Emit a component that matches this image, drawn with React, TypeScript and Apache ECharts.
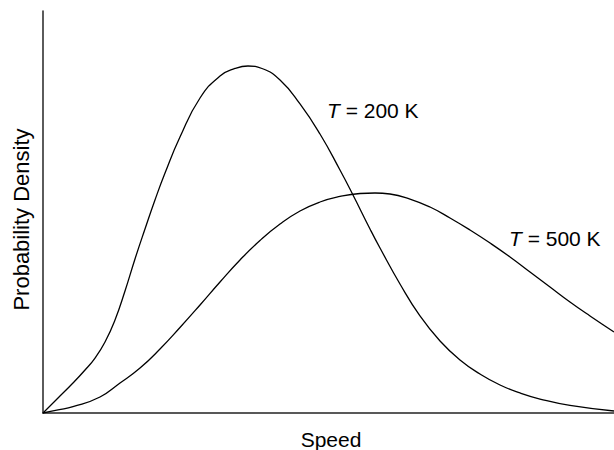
import React, { useEffect, useRef } from "react";
import * as echarts from "echarts";

// Speed (arbitrary units, 0..100) and probability density (arbitrary units)
const speedT200: number[] = [0, 2.63, 5.25, 7.36, 9.11, 10.86, 12.61, 14.36, 16.11, 17.86, 19.61, 21.37, 23.99, 27.5, 31.0, 33.63, 35.9, 38.35, 41.51, 45.01, 48.51, 52.01, 54.29, 57.27, 59.02, 62.52, 66.02, 69.53, 73.03, 76.53, 80.04, 83.54, 87.04, 92.29, 100];
const densityT200: number[] = [0, 3.73, 7.46, 10.7, 13.68, 17.66, 23.13, 30.35, 38.31, 45.77, 52.99, 59.7, 68.66, 78.36, 83.83, 85.7, 86.32, 85.7, 82.84, 76.87, 69.4, 60.45, 54.23, 45.77, 41.04, 32.09, 24.13, 17.91, 13.18, 9.7, 6.97, 4.98, 3.48, 1.87, 0.5];

const speedT500: number[] = [0, 2.63, 5.25, 9.98, 13.49, 16.99, 20.49, 23.99, 27.5, 31.0, 34.5, 38.0, 41.51, 45.01, 48.51, 52.01, 55.52, 58.14, 60.77, 64.27, 67.78, 71.28, 74.78, 78.28, 81.79, 85.29, 88.79, 92.29, 95.8, 100];
const densityT500: number[] = [0, 0.75, 1.57, 3.98, 7.46, 11.19, 15.92, 21.27, 26.87, 32.59, 38.06, 42.91, 47.01, 50.25, 52.49, 53.86, 54.6, 54.73, 54.48, 53.23, 51.24, 48.51, 45.52, 42.29, 38.81, 35.07, 31.34, 27.61, 24.13, 20.15];

const seriesNames: string[] = ["T = 200 K", "T = 500 K"];
const xAxisTitle = "Speed";
const yAxisTitle = "Probability Density";

const FONT = "Liberation Sans, Arial, Helvetica, sans-serif";

export default function App() {
  const ref = useRef<HTMLDivElement>(null);

  useEffect(() => {
    if (!ref.current) return;
    const chart = echarts.init(ref.current, undefined, { renderer: "svg" });
    const lineStyle = { color: "#000", width: 1.3 };
    const labelText = (name: string) => "{i|T}" + name.slice(1);
    chart.setOption({
      animation: false,
      backgroundColor: "#fff",
      grid: { left: 43, right: 0, top: 11, bottom: 37 },
      xAxis: {
        type: "value",
        min: 0,
        max: 100,
        axisLine: { show: true, lineStyle: { color: "#222", width: 1.6 } },
        axisTick: { show: false },
        axisLabel: { show: false },
        splitLine: { show: false },
      },
      yAxis: {
        type: "value",
        min: 0,
        max: 100,
        axisLine: { show: true, lineStyle: { color: "#333", width: 1.6 } },
        axisTick: { show: false },
        axisLabel: { show: false },
        splitLine: { show: false },
      },
      series: [
        {
          name: seriesNames[0],
          type: "line",
          data: speedT200.map((s, i) => [s, densityT200[i]]),
          smooth: 0.5,
          symbol: "none",
          lineStyle,
        },
        {
          name: seriesNames[1],
          type: "line",
          data: speedT500.map((s, i) => [s, densityT500[i]]),
          smooth: 0.5,
          symbol: "none",
          lineStyle,
        },
      ],
      graphic: [
        {
          type: "text",
          x: 327,
          y: 110,
          style: {
            text: labelText(seriesNames[0]),
            font: `21px ${FONT}`,
            fill: "#000",
            align: "left",
            verticalAlign: "middle",
            rich: { i: { fontStyle: "italic", fontSize: 21, fontFamily: FONT } },
          },
        },
        {
          type: "text",
          x: 509,
          y: 238.5,
          style: {
            text: labelText(seriesNames[1]),
            font: `21px ${FONT}`,
            fill: "#000",
            align: "left",
            verticalAlign: "middle",
            rich: { i: { fontStyle: "italic", fontSize: 21, fontFamily: FONT } },
          },
        },
        {
          type: "text",
          x: 331,
          y: 439,
          style: {
            text: xAxisTitle,
            font: `21px ${FONT}`,
            fill: "#000",
            align: "center",
            verticalAlign: "middle",
          },
        },
        {
          type: "text",
          x: 21,
          y: 219.5,
          rotation: Math.PI / 2,
          style: {
            text: yAxisTitle,
            font: `22px ${FONT}`,
            fill: "#000",
            align: "center",
            verticalAlign: "middle",
          },
        },
      ],
    });
    return () => chart.dispose();
  }, []);

  return (
    <div
      ref={ref}
      style={{ position: "absolute", left: 0, top: 0, width: 614, height: 450 }}
    />
  );
}
